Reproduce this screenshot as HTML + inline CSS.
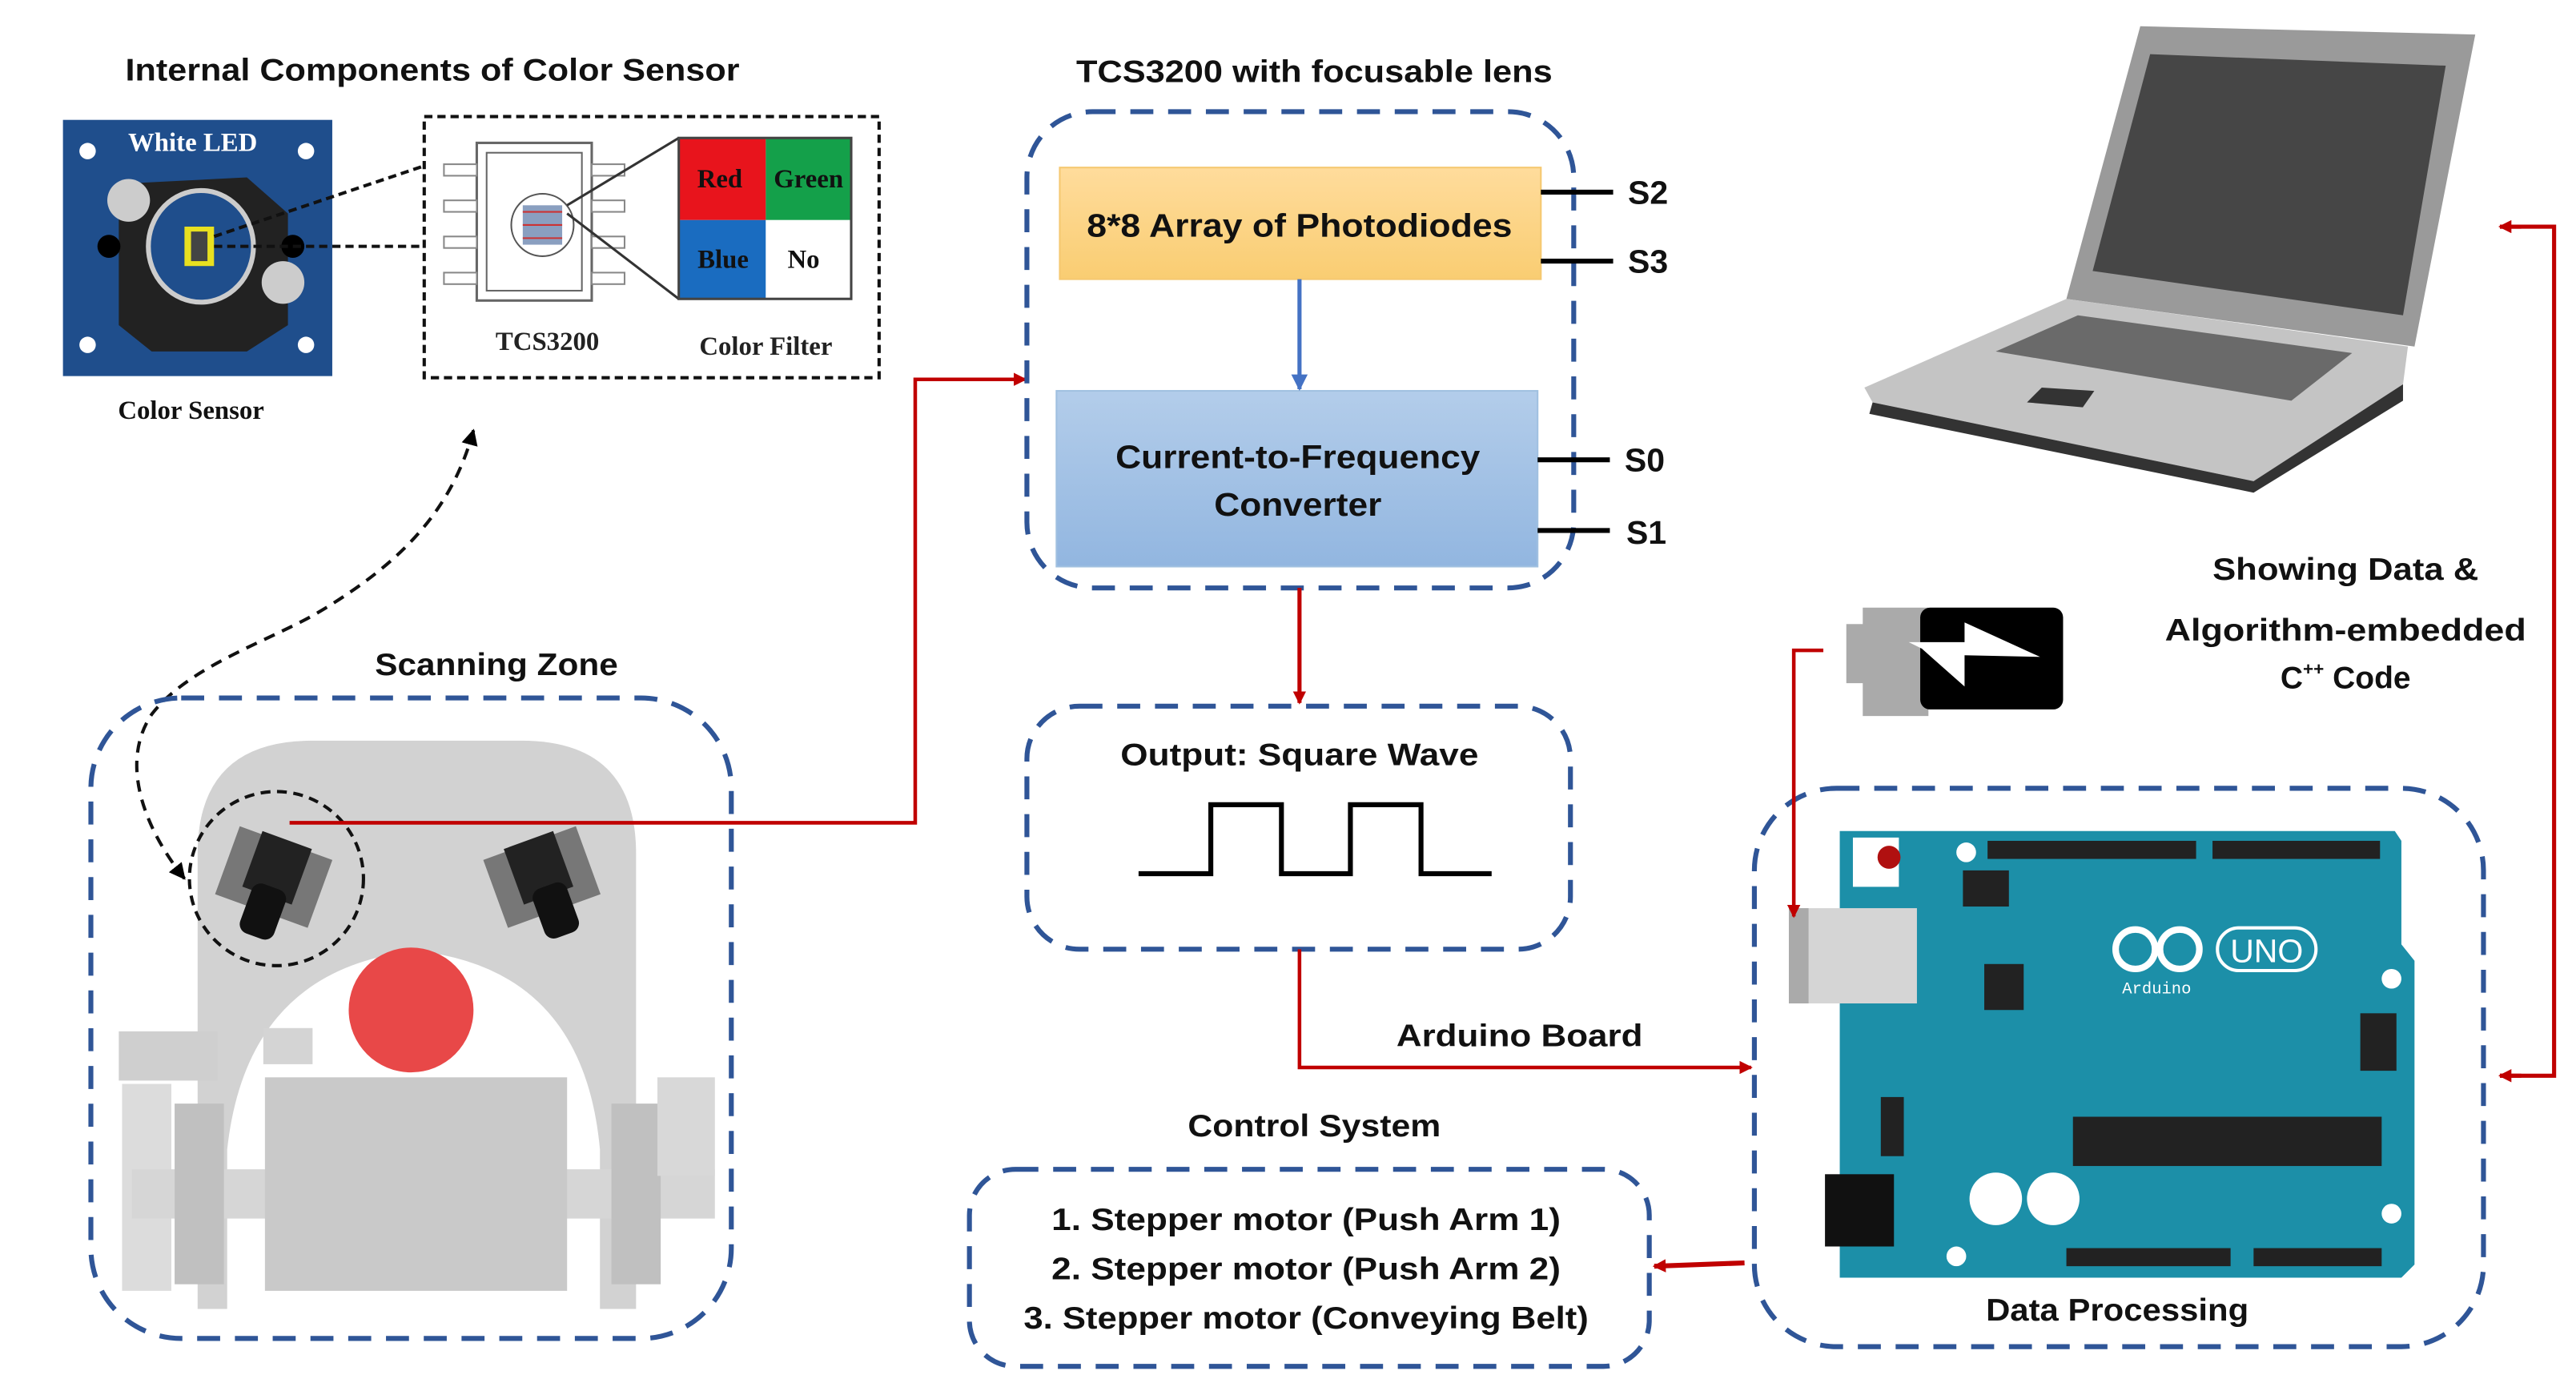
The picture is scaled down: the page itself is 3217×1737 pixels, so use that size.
<!DOCTYPE html>
<html><head><meta charset="utf-8"><style>
html,body{margin:0;padding:0;background:#fff;}
svg{display:block;}
.t{font-family:"Liberation Sans",sans-serif;font-weight:bold;fill:#111;}
.s{font-family:"Liberation Serif",serif;font-weight:bold;}
</style></head><body>
<svg width="3217" height="1737" viewBox="0 0 1568 847" xmlns="http://www.w3.org/2000/svg">
<defs>
<marker id="ar" markerWidth="8" markerHeight="8" refX="7" refY="4" orient="auto" markerUnits="userSpaceOnUse"><path d="M0,0 L8,4 L0,8 Z" fill="#c00000"/></marker>
<marker id="ab" markerWidth="10" markerHeight="10" refX="9" refY="5" orient="auto" markerUnits="userSpaceOnUse"><path d="M0,0 L10,5 L0,10 Z" fill="#4472c4"/></marker>
<marker id="ak" markerWidth="10" markerHeight="10" refX="9" refY="5" orient="auto-start-reverse" markerUnits="userSpaceOnUse"><path d="M0,0 L10,5 L0,10 Z" fill="#000"/></marker>
<linearGradient id="og" x1="0" y1="0" x2="0" y2="1"><stop offset="0" stop-color="#ffdc9c"/><stop offset="1" stop-color="#f9cd72"/></linearGradient>
<linearGradient id="bg" x1="0" y1="0" x2="0" y2="1"><stop offset="0" stop-color="#b3cdea"/><stop offset="1" stop-color="#92b6e0"/></linearGradient>
</defs>
<rect width="1568" height="847" fill="#fff"/>

<text class="t" x="263" y="49" font-size="19" text-anchor="middle" textLength="374" lengthAdjust="spacingAndGlyphs">Internal Components of Color Sensor</text>
<rect x="38" y="73" width="164" height="156" fill="#1f4e8c"/>
<polygon points="72,112 150,108 175,130 175,198 150,214 92,214 72,198" fill="#222"/>
<ellipse cx="122" cy="150" rx="32" ry="34" fill="#1f4e8c" stroke="#ccc" stroke-width="3"/>
<rect x="112" y="138" width="18" height="24" fill="#e8e020"/>
<rect x="116" y="141" width="10" height="18" fill="#444"/>
<circle cx="78" cy="122" r="13" fill="#ccc"/><circle cx="172" cy="172" r="13" fill="#ccc"/>
<circle cx="66" cy="150" r="7" fill="#000"/><circle cx="178" cy="150" r="7" fill="#000"/>
<circle cx="53" cy="92" r="5" fill="#fff"/><circle cx="186" cy="92" r="5" fill="#fff"/>
<circle cx="53" cy="210" r="5" fill="#fff"/><circle cx="186" cy="210" r="5" fill="#fff"/>
<text class="s" x="117" y="92" font-size="16" fill="#fff" text-anchor="middle">White LED</text>
<text class="s" x="116" y="255" font-size="16" fill="#111" text-anchor="middle">Color Sensor</text>
<line x1="130" y1="144" x2="258" y2="101" stroke="#111" stroke-width="2" stroke-dasharray="5,3"/>
<line x1="130" y1="150" x2="258" y2="150" stroke="#111" stroke-width="2" stroke-dasharray="5,3"/>
<rect x="258" y="71" width="277" height="159" fill="none" stroke="#111" stroke-width="2" stroke-dasharray="5,3"/>
<rect x="290" y="87" width="70" height="96" fill="#fff" stroke="#666" stroke-width="1.5"/>
<rect x="296" y="93" width="58" height="84" fill="none" stroke="#666" stroke-width="1"/>
<g fill="#fff" stroke="#888"><rect x="270" y="100" width="20" height="7"/><rect x="270" y="122" width="20" height="7"/><rect x="270" y="144" width="20" height="7"/><rect x="270" y="166" width="20" height="7"/>
<rect x="360" y="100" width="20" height="7"/><rect x="360" y="122" width="20" height="7"/><rect x="360" y="144" width="20" height="7"/><rect x="360" y="166" width="20" height="7"/></g>
<circle cx="330" cy="137" r="19" fill="#fff" stroke="#555"/>
<rect x="318" y="125" width="24" height="24" fill="#8a9fc0"/>
<g stroke="#c33" stroke-width="1"><line x1="318" y1="129" x2="342" y2="129"/><line x1="318" y1="137" x2="342" y2="137"/><line x1="318" y1="145" x2="342" y2="145"/></g>
<line x1="345" y1="125" x2="413" y2="84" stroke="#333" stroke-width="1.5"/>
<line x1="345" y1="130" x2="413" y2="182" stroke="#333" stroke-width="1.5"/>
<rect x="413" y="84" width="53" height="50" fill="#e8141c"/>
<rect x="466" y="84" width="52" height="50" fill="#14a04a"/>
<rect x="413" y="134" width="53" height="48" fill="#1a6cc0"/>
<rect x="466" y="134" width="52" height="48" fill="#fff"/>
<rect x="413" y="84" width="105" height="98" fill="none" stroke="#444" stroke-width="1.5"/>
<text class="s" x="438" y="114" font-size="16" fill="#111" text-anchor="middle">Red</text>
<text class="s" x="492" y="114" font-size="16" fill="#111" text-anchor="middle">Green</text>
<text class="s" x="440" y="163" font-size="16" fill="#111" text-anchor="middle">Blue</text>
<text class="s" x="489" y="163" font-size="16" fill="#111" text-anchor="middle">No</text>
<text class="s" x="333" y="213" font-size="16" fill="#222" text-anchor="middle">TCS3200</text>
<text class="s" x="466" y="216" font-size="16" fill="#222" text-anchor="middle">Color Filter</text>

<path d="M112,535 C88,505 72,465 92,435 C115,405 165,390 195,372 C245,342 275,310 288,262" fill="none" stroke="#111" stroke-width="2" stroke-dasharray="7,5" marker-start="url(#ak)" marker-end="url(#ak)"/>

<text class="t" x="302" y="411" font-size="19" text-anchor="middle" textLength="148" lengthAdjust="spacingAndGlyphs">Scanning Zone</text>
<path d="M120,797 L120,520 Q120,451 190,451 L317,451 Q387,451 387,520 L387,797 Z" fill="#d2d2d2"/>
<path d="M138,797 L138,700 Q150,590 253,579 Q355,590 365,700 L365,797 Z" fill="#fff"/>
<rect x="72" y="628" width="60" height="30" fill="#cfcfcf"/>
<rect x="74" y="660" width="30" height="126" fill="#dcdcdc"/>
<rect x="80" y="712" width="355" height="30" fill="#d6d6d6"/>
<rect x="161" y="656" width="184" height="130" fill="#c9c9c9"/>
<rect x="106" y="672" width="30" height="110" fill="#c0c0c0"/>
<rect x="372" y="672" width="30" height="110" fill="#c0c0c0"/>
<rect x="400" y="656" width="35" height="60" fill="#d8d8d8"/>
<rect x="160" y="626" width="30" height="22" fill="#d4d4d4"/>
<circle cx="250" cy="615" r="38" fill="#e84848"/>
<g transform="rotate(20 166 535)"><rect x="136" y="512" width="60" height="44" fill="#777"/><rect x="150" y="510" width="32" height="36" fill="#222"/><rect x="156" y="540" width="22" height="32" rx="6" fill="#111"/></g>
<g transform="rotate(-20 330 535)"><rect x="300" y="512" width="60" height="44" fill="#777"/><rect x="314" y="510" width="32" height="36" fill="#222"/><rect x="320" y="540" width="22" height="32" rx="6" fill="#111"/></g>
<circle cx="168" cy="535" r="53" fill="none" stroke="#111" stroke-width="2" stroke-dasharray="6,4"/>
<rect x="55" y="425" width="390" height="390" rx="55" fill="none" stroke="#2f5597" stroke-width="3" stroke-dasharray="14,9"/>

<polyline points="176,501 557,501 557,231 624,231" fill="none" stroke="#c00000" stroke-width="2.2" marker-end="url(#ar)"/>

<text class="t" x="800" y="50" font-size="19" text-anchor="middle" textLength="290" lengthAdjust="spacingAndGlyphs">TCS3200 with focusable lens</text>
<rect x="625" y="68" width="333" height="290" rx="40" fill="none" stroke="#2f5597" stroke-width="3" stroke-dasharray="14,9"/>
<rect x="645" y="102" width="293" height="68" fill="url(#og)" stroke="#f5c870" stroke-width="1"/>
<text class="t" x="791" y="144" font-size="20" text-anchor="middle" textLength="259" lengthAdjust="spacingAndGlyphs">8*8 Array of Photodiodes</text>
<rect x="643" y="238" width="293" height="107" fill="url(#bg)" stroke="#a0c0e0" stroke-width="1"/>
<text class="t" x="790" y="285" font-size="20" text-anchor="middle" textLength="222" lengthAdjust="spacingAndGlyphs">Current-to-Frequency</text>
<text class="t" x="790" y="314" font-size="20" text-anchor="middle" textLength="102" lengthAdjust="spacingAndGlyphs">Converter</text>
<line x1="791" y1="170" x2="791" y2="237" stroke="#4472c4" stroke-width="2.5" marker-end="url(#ab)"/>
<g stroke="#000" stroke-width="3"><line x1="938" y1="117" x2="982" y2="117"/><line x1="938" y1="159" x2="982" y2="159"/><line x1="936" y1="280" x2="980" y2="280"/><line x1="936" y1="323" x2="980" y2="323"/></g>
<g class="t" font-size="20"><text x="991" y="124">S2</text><text x="991" y="166">S3</text><text x="989" y="287">S0</text><text x="990" y="331">S1</text></g>
<line x1="791" y1="358" x2="791" y2="428" stroke="#c00000" stroke-width="2.5" marker-end="url(#ar)"/>

<rect x="625" y="430" width="331" height="148" rx="32" fill="none" stroke="#2f5597" stroke-width="3" stroke-dasharray="14,9"/>
<text class="t" x="791" y="466" font-size="19" text-anchor="middle" textLength="218" lengthAdjust="spacingAndGlyphs">Output: Square Wave</text>
<polyline points="693,532 737,532 737,490 780,490 780,532 822,532 822,490 865,490 865,532 908,532" fill="none" stroke="#000" stroke-width="3"/>

<polyline points="791,578 791,650 1066,650" fill="none" stroke="#c00000" stroke-width="2.2" marker-end="url(#ar)"/>
<text class="t" x="925" y="637" font-size="19" text-anchor="middle" textLength="150" lengthAdjust="spacingAndGlyphs">Arduino Board</text>

<text class="t" x="800" y="692" font-size="19" text-anchor="middle" textLength="154" lengthAdjust="spacingAndGlyphs">Control System</text>
<rect x="590" y="712" width="414" height="120" rx="28" fill="none" stroke="#2f5597" stroke-width="3" stroke-dasharray="14,9"/>
<g class="t" font-size="19" text-anchor="middle">
<text x="795" y="749" textLength="310" lengthAdjust="spacingAndGlyphs">1. Stepper motor (Push Arm 1)</text>
<text x="795" y="779" textLength="310" lengthAdjust="spacingAndGlyphs">2. Stepper motor (Push Arm 2)</text>
<text x="795" y="809" textLength="344" lengthAdjust="spacingAndGlyphs">3. Stepper motor (Conveying Belt)</text>
</g>
<line x1="1062" y1="769" x2="1007" y2="771" stroke="#c00000" stroke-width="3" marker-end="url(#ar)"/>

<rect x="1068" y="480" width="444" height="340" rx="50" fill="none" stroke="#2f5597" stroke-width="3" stroke-dasharray="14,9"/>
<path d="M1120,506 L1458,506 L1462,512 L1462,575 L1470,585 L1470,770 L1462,778 L1120,778 Z" fill="#1c8fa8"/>
<rect x="1128" y="510" width="28" height="30" fill="#fff"/><circle cx="1150" cy="522" r="7" fill="#b01010"/>
<circle cx="1197" cy="519" r="6" fill="#fff"/><circle cx="1456" cy="596" r="6" fill="#fff"/><circle cx="1456" cy="739" r="6" fill="#fff"/><circle cx="1191" cy="765" r="6" fill="#fff"/>
<rect x="1210" y="512" width="127" height="11" fill="#222"/><rect x="1347" y="512" width="102" height="11" fill="#222"/>
<rect x="1195" y="530" width="28" height="22" fill="#222"/>
<rect x="1089" y="553" width="78" height="58" fill="#d5d5d5"/><rect x="1089" y="553" width="12" height="58" fill="#aaa"/>
<rect x="1208" y="587" width="24" height="28" fill="#222"/>
<circle cx="1300" cy="578" r="12" fill="none" stroke="#fff" stroke-width="4"/><circle cx="1327" cy="578" r="12" fill="none" stroke="#fff" stroke-width="4"/>
<rect x="1350" y="565" width="60" height="26" rx="13" fill="none" stroke="#fff" stroke-width="2"/>
<text x="1380" y="586" font-family="Liberation Sans,sans-serif" font-size="20" fill="#fff" text-anchor="middle">UNO</text>
<text x="1313" y="605" font-family="Liberation Mono,monospace" font-size="10" fill="#fff" text-anchor="middle">Arduino</text>
<rect x="1437" y="617" width="22" height="35" fill="#222"/>
<rect x="1262" y="680" width="188" height="30" fill="#222"/>
<rect x="1145" y="668" width="14" height="36" fill="#222"/>
<rect x="1111" y="715" width="42" height="44" fill="#111"/>
<circle cx="1215" cy="730" r="16" fill="#fff"/><circle cx="1250" cy="730" r="16" fill="#fff"/>
<rect x="1258" y="760" width="100" height="11" fill="#222"/><rect x="1372" y="760" width="78" height="11" fill="#222"/>
<text class="t" x="1289" y="804" font-size="19" text-anchor="middle" textLength="160" lengthAdjust="spacingAndGlyphs">Data Processing</text>

<rect x="1124" y="380" width="14" height="36" fill="#aaa"/>
<rect x="1134" y="370" width="40" height="66" fill="#aaa"/>
<rect x="1169" y="370" width="87" height="62" rx="6" fill="#000"/>
<polygon points="1162,391 1196,391 1196,379 1242,400 1196,399 1196,418 1170,395" fill="#fff"/>
<polyline points="1110,396 1092,396 1092,558" fill="none" stroke="#c00000" stroke-width="2.2" marker-end="url(#ar)"/>

<polygon points="1303,16 1507,21 1470,211 1258,182" fill="#9a9a9a"/>
<polygon points="1309,33 1489,40 1463,192 1274,165" fill="#464646"/>
<polygon points="1135,236 1258,182 1466,211 1463,234 1372,293 1140,245" fill="#c4c4c4"/>
<polygon points="1215,214 1265,192 1432,215 1395,244" fill="#6a6a6a"/>
<polygon points="1243,236 1275,238 1268,248 1234,245" fill="#333"/>
<polygon points="1140,245 1372,293 1463,234 1463,244 1372,300 1138,252" fill="#333"/>

<text class="t" x="1428" y="353" font-size="19" text-anchor="middle" textLength="162" lengthAdjust="spacingAndGlyphs">Showing Data &amp;</text>
<text class="t" x="1428" y="390" font-size="19" text-anchor="middle" textLength="220" lengthAdjust="spacingAndGlyphs">Algorithm-embedded</text>
<text class="t" x="1428" y="419" font-size="19" text-anchor="middle">C<tspan font-size="11" dy="-8">++</tspan><tspan dy="8"> Code</tspan></text>

<polyline points="1522,138 1555,138 1555,655 1522,655" fill="none" stroke="#c00000" stroke-width="2.5"/>
<line x1="1535" y1="138" x2="1522" y2="138" stroke="#c00000" stroke-width="2.5" marker-end="url(#ar)"/>
<line x1="1535" y1="655" x2="1522" y2="655" stroke="#c00000" stroke-width="2.5" marker-end="url(#ar)"/>
</svg>
</body></html>
